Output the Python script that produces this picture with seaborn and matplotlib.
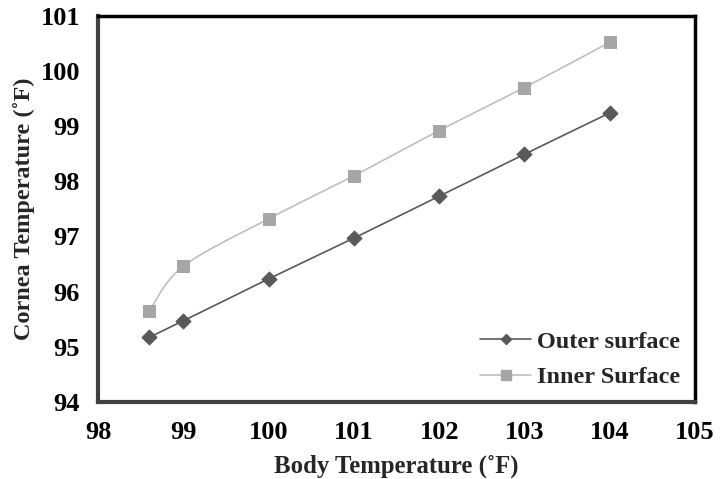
import numpy as np
import pandas as pd
import seaborn as sns
import matplotlib
matplotlib.use("Agg")
import matplotlib.pyplot as plt
from matplotlib.lines import Line2D

# Body temperature vs. cornea surface temperature
body_temp = [98.6, 99, 100, 101, 102, 103, 104]
outer_surface = [95.17, 95.47, 96.23, 96.97, 97.73, 98.49, 99.24]
inner_surface = [95.65, 96.46, 97.32, 98.10, 98.92, 99.70, 100.52]
x_ticks = [98, 99, 100, 101, 102, 103, 104, 105]
y_ticks = [94, 95, 96, 97, 98, 99, 100, 101]


def smooth_curve(x, y, n=30):
    """Bezier-smoothed path through the points (spreadsheet-style smoothing)."""
    p = np.column_stack([x, y]).astype(float)
    pts = np.vstack([p[0], p, p[-1]])
    out = []
    for i in range(1, len(pts) - 2):
        p0, p1, p2, p3 = pts[i - 1], pts[i], pts[i + 1], pts[i + 2]
        c1 = p1 + (p2 - p0) / 6.0
        c2 = p2 - (p3 - p1) / 6.0
        t = np.linspace(0, 1, n)[:, None]
        seg = ((1 - t) ** 3) * p1 + 3 * ((1 - t) ** 2) * t * c1 + 3 * (1 - t) * t ** 2 * c2 + t ** 3 * p2
        out.append(seg if i == 1 else seg[1:])
    s = np.vstack(out)
    return s[:, 0], s[:, 1]


sns.set_theme(style="white")
plt.rcParams["font.family"] = ["Liberation Serif", "DejaVu Serif"]
plt.rcParams["font.weight"] = "bold"

fig = plt.figure(figsize=(7.21, 4.79), dpi=100)
ax = fig.add_axes([0.136, 0.161, 0.828, 0.806])

outer_col = "#595959"
inner_line = "#BFBFBF"
inner_mark = "#A6A6A6"

ox, oy = smooth_curve(body_temp, outer_surface)
ix, iy = smooth_curve(body_temp, inner_surface)
curves = pd.DataFrame({"x": ox, "y": oy})
sns.lineplot(data=curves, x="x", y="y", ax=ax, color=outer_col, lw=1.2, sort=False, estimator=None)
curves_in = pd.DataFrame({"x": ix, "y": iy})
sns.lineplot(data=curves_in, x="x", y="y", ax=ax, color=inner_line, lw=1.2, sort=False, estimator=None)

sns.scatterplot(x=body_temp, y=outer_surface, ax=ax, marker="D", s=60, color=outer_col, edgecolor=outer_col, zorder=3)
sns.scatterplot(x=body_temp, y=inner_surface, ax=ax, marker="s", s=85, color=inner_mark, edgecolor=inner_mark, zorder=3)

ax.set_xlim(98, 105)
ax.set_ylim(94, 101)
ax.set_xticks(x_ticks)
ax.set_yticks(y_ticks)
ax.tick_params(axis="both", direction="inout", length=10, width=1, color="#808080",
               labelsize=19, labelcolor="black")
ax.tick_params(axis="x", pad=9)
ax.tick_params(axis="y", pad=8)
for lab in ax.get_xticklabels() + ax.get_yticklabels():
    lab.set_fontweight("bold")

ax.set_xlabel("Body Temperature (˚F)", fontsize=17.8, fontweight="bold", labelpad=7)
ax.set_ylabel("Cornea Temperature (˚F)", fontsize=17.5, fontweight="bold", labelpad=4)

for side in ["left", "bottom"]:
    ax.spines[side].set_color("#404040")
    ax.spines[side].set_linewidth(3)
for side in ["top", "right"]:
    ax.spines[side].set_color("black")
    ax.spines[side].set_linewidth(2.5)

handles = [
    Line2D([], [], color=outer_col, lw=1.2, marker="D", markersize=5, label="Outer surface"),
    Line2D([], [], color=inner_line, lw=1.2, marker="s", markersize=7,
           markerfacecolor=inner_mark, markeredgecolor=inner_mark, label="Inner Surface"),
]
ax.legend(handles=handles, loc="lower right", frameon=False,
          prop={"weight": "bold", "size": 17.5}, handlelength=2.1, handletextpad=0.25,
          borderaxespad=0.2, labelspacing=0.55, bbox_to_anchor=(1.0, -0.002))

fig.savefig("out.png", dpi=100)
